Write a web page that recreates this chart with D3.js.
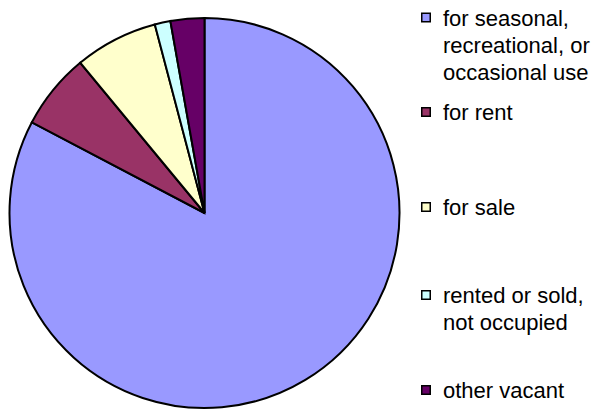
<!DOCTYPE html>
<html>
<head>
<meta charset="utf-8">
<script src="https://cdn.jsdelivr.net/npm/d3@7"></script>
<style>
  html, body { margin: 0; padding: 0; background: #fff; }
  svg { display: block; }
  text { font-family: "Liberation Sans", Arial, sans-serif; fill: #000; }
</style>
</head>
<body>
<svg id="chart" width="591" height="410"></svg>
<script>
// Vacant housing units by reason (percent of total)
const categories = [
  "for seasonal, recreational, or occasional use",
  "for rent",
  "for sale",
  "rented or sold, not occupied",
  "other vacant"
];
const values = [82.7, 6.3, 6.9, 1.3, 2.8];
const legendLines = [
  ["for seasonal,", "recreational, or", "occasional use"],
  ["for rent"],
  ["for sale"],
  ["rented or sold,", "not occupied"],
  ["other vacant"]
];
const colors = ["#9999ff", "#993366", "#ffffcc", "#ccffff", "#660066"];

const svg = d3.select("#chart");
const cx = 204.5, cy = 213, radius = 195;

const data = categories.map((c, i) => ({ category: c, value: values[i] }));

const pie = d3.pie().value(d => d.value).sort(null);
const arc = d3.arc().innerRadius(0).outerRadius(radius);
const color = d3.scaleOrdinal().domain(categories).range(colors);

svg.append("g")
  .attr("transform", `translate(${cx},${cy})`)
  .selectAll("path")
  .data(pie(data))
  .join("path")
  .attr("d", arc)
  .attr("fill", d => color(d.data.category))
  .attr("stroke", "#000")
  .attr("stroke-width", 2)
  .attr("stroke-linejoin", "miter");

// Legend: swatch plus wrapped label lines
const itemY = [17.5, 112, 207, 295, 390];
const lineGap = 27;

const items = svg.append("g").selectAll("g")
  .data(categories)
  .join("g")
  .attr("transform", (d, i) => `translate(421,${itemY[i]})`);

items.append("rect")
  .attr("x", 0.75).attr("y", -4.25)
  .attr("width", 8.5).attr("height", 8.5)
  .attr("fill", d => color(d))
  .attr("stroke", "#000")
  .attr("stroke-width", 1.5);

items.append("text")
  .attr("x", 22)
  .attr("y", 8)
  .attr("font-size", 22)
  .selectAll("tspan")
  .data((d, i) => legendLines[i])
  .join("tspan")
  .attr("x", 22)
  .attr("dy", (d, j) => j === 0 ? 0 : lineGap)
  .text(d => d);
</script>
</body>
</html>
